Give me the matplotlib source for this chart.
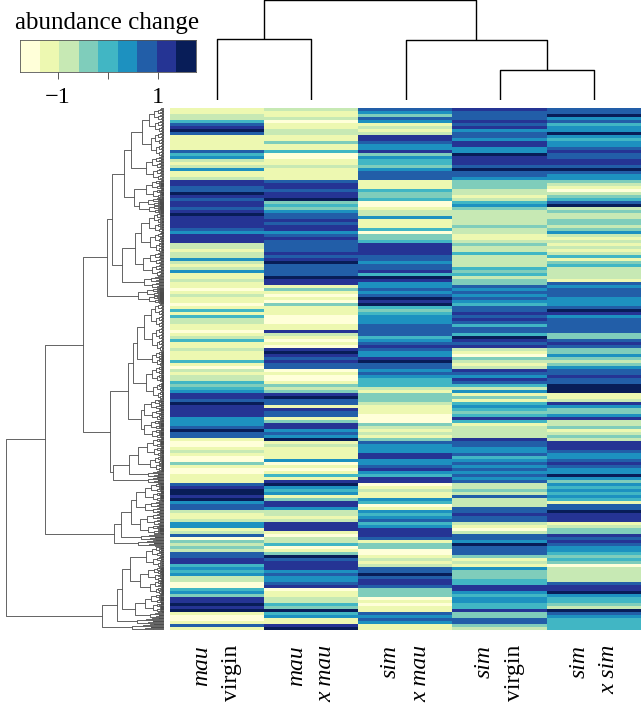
import matplotlib
matplotlib.use('Agg')
import matplotlib.pyplot as plt
import numpy as np
from matplotlib.colors import ListedColormap

plt.rcParams['font.family'] = ['Liberation Serif', 'DejaVu Serif']

# colour level (0-8) of each row, top to bottom
mau_virgin = [1,1,2,2,4,6,7,8,6,1,1,1,1,1,6,4,5,2,1,2,5,1,1,2,
              7,7,6,6,8,7,6,7,7,6,7,8,7,7,7,7,6,5,7,7,7,2,2,1,2,2,5,2,1,2,5,1,1,
              2,1,1,0,1,2,1,1,0,1,4,1,4,2,2,1,1,0,1,2,4,1,1,2,1,1,1,4,1,0,
              2,1,2,2,4,3,4,5,7,7,6,8,7,7,7,7,5,5,5,6,8,6,6,1,0,0,1,2,1,0,
              0,3,1,0,0,1,1,1,6,7,8,8,7,8,5,6,6,2,1,1,2,5,5,1,2,6,0,3,2,3,
              2,6,6,7,7,4,5,4,5,2,2,0,0,4,5,3,7,7,8,7,8,1,0,0,1,6,1]
mau_x_mau = [2,1,1,2,0,1,1,2,2,1,1,3,1,1,4,0,0,1,1,2,1,1,1,1,
             6,7,7,6,7,7,8,3,4,3,5,6,6,7,6,7,7,5,6,7,6,6,6,6,7,6,7,8,6,6,6,6,8,
             7,7,1,3,1,0,1,0,3,1,1,1,0,0,0,1,1,7,2,1,0,1,0,7,8,7,6,7,6,6,
             0,1,0,0,1,3,2,3,7,8,6,6,1,7,6,6,1,3,7,7,5,6,5,8,1,2,1,1,1,1,
             5,0,1,0,1,4,1,7,8,5,4,5,1,3,7,7,5,2,2,1,2,7,7,7,1,0,2,2,4,0,
             1,3,8,6,7,7,7,5,6,5,5,6,7,0,1,1,2,2,4,3,8,4,5,1,1,7,8]
sim_x_mau = [6,5,3,6,5,1,2,1,2,7,7,6,5,5,7,3,5,4,4,3,5,6,6,6,
             1,1,1,4,3,3,4,0,0,1,2,2,5,1,1,1,4,0,3,3,4,7,7,7,7,6,6,5,6,6,7,4,8,
             7,5,5,6,5,6,8,7,8,4,3,4,5,5,5,6,6,6,6,4,5,6,7,6,5,5,7,8,6,6,
             5,6,5,4,4,4,2,1,3,3,3,2,1,1,1,0,0,0,3,2,1,2,1,3,6,5,5,5,7,7,
             5,5,6,7,5,4,7,7,0,1,2,1,1,5,4,0,1,5,4,5,6,4,5,7,7,7,6,1,3,3,
             0,0,1,2,1,2,6,6,8,6,7,7,6,3,3,3,0,1,0,1,1,6,5,6,5,1,1]
sim_virgin = [7,6,6,6,7,6,7,5,6,6,5,7,7,5,5,8,7,7,7,6,8,6,6,5,
              3,3,3,2,2,1,2,4,5,3,2,2,2,2,2,3,2,2,1,1,2,3,2,2,4,2,2,2,2,4,3,4,2,
              3,3,6,5,6,5,6,5,4,6,6,7,6,7,6,4,6,6,4,8,7,6,7,2,1,0,3,2,1,2,
              7,6,5,7,6,4,2,5,1,3,1,4,5,4,3,4,7,4,1,2,2,2,2,7,6,6,5,5,6,4,
              5,6,5,6,5,6,5,6,2,2,3,2,6,2,2,2,6,6,7,6,6,2,1,0,2,6,6,5,8,6,
              6,6,3,1,2,1,5,3,3,3,4,4,7,7,5,4,5,5,4,4,7,3,3,6,6,3,2]
sim_x_sim = [6,6,8,5,6,4,5,5,8,5,4,5,5,6,7,6,6,7,7,6,8,6,5,5,
             3,2,1,0,2,3,4,6,8,2,3,2,2,3,3,2,3,5,2,1,2,1,2,1,2,4,1,3,4,2,2,2,2,
             1,6,5,6,6,6,5,5,5,6,8,7,5,6,6,6,6,6,3,3,6,7,6,3,3,5,3,2,3,5,
             6,6,7,6,6,8,8,8,1,1,2,7,5,3,3,5,7,2,2,3,1,2,3,2,7,7,7,6,5,5,
             6,7,6,5,5,8,5,3,5,4,5,4,5,4,1,6,6,8,7,7,7,1,2,3,3,7,6,7,6,5,
             5,4,3,4,3,0,2,2,2,2,2,6,7,7,8,5,4,4,3,2,8,6,5,4,4,4,4]

colors = ['#FFFFD9', '#EDF8B1', '#C7E9B4', '#7FCDBB', '#41B6C4',
          '#1D91C0', '#225EA8', '#253494', '#081D58']

# row tree: (height, upper, lower), ends are (height, number of rows)
row_tree = (158,
    (119,
        (81,
            (57,
                (52,
                    (40,
                        (33, (22, 16), (18, 8)),
                        (30, (18, 6), (25, 5))),
                    (42,
                        (29, (23, 13), (21, 8)),
                        (20, 4))),
                (26, 5)),
            (54,
                (36,
                    (31,
                        (27, (20, 16), (12, 5)),
                        (18, 11)),
                    (23, (20, 7), (20, 6))),
                (51,
                    (35,
                        (26, (17, 6), (14, 5)),
                        (16, 2)),
                    (16, 2)))),
        (50,
            (43,
                (33,
                    (28, (19, 6), (19, 4)),
                    (24, (17, 4), (16, 3))),
                (23, 2)),
            (26, 2))),
    (62,
        (47,
            (42,
                (34, (18, 7), (24, 9)),
                (29, (19, 6), (14, 2))),
            (27, 2)),
        (32, 2)))

# column tree merges
col_merge_heights = [100, 61, 60, 30]
col_names = [('mau', 'virgin'), ('mau', 'x mau'), ('sim', 'x mau'), ('sim', 'virgin'), ('sim', 'x sim')]
second_italic = [False, True, True, False, True]

W, H = 641, 705
fig = plt.figure(figsize=(W / 100, H / 100), dpi=100)


def px_axes(x0, y0, x1, y1):
    ax = fig.add_axes([x0 / W, 1 - y1 / H, (x1 - x0) / W, (y1 - y0) / H])
    return ax


# heatmap
values = np.array([mau_virgin, mau_x_mau, sim_x_mau, sim_virgin, sim_x_sim]).T
ax = px_axes(170, 108, 641, 630)
ax.imshow(values, cmap=ListedColormap(colors), vmin=-0.5, vmax=8.5, aspect='auto', interpolation='nearest')
ax.axis('off')

# row dendrogram
ax_left = px_axes(0, 108, 164, 630)
n_rows = values.shape[0]
line_kw = dict(color='#4a4a4a', lw=0.6, solid_capstyle='butt')
LEAF = 0.25


def draw_cluster(h, lo, n):
    # end group: split in half until single leaves
    if n <= LEAF:
        return lo + n / 2, 0
    half = n / 2
    ha = h * 0.66
    ya, hh_a = draw_cluster(ha, lo, half)
    yb, hh_b = draw_cluster(ha * 0.9, lo + half, half)
    ax_left.plot([hh_a, h, h, hh_b], [ya, ya, yb, yb], **line_kw)
    return (ya + yb) / 2, h


def draw_node(node, lo):
    if len(node) == 2:
        y, h = draw_cluster(node[0], lo, float(node[1]))
        return y, h, lo + node[1]
    ya, ha, mid = draw_node(node[1], lo)
    yb, hb, hi = draw_node(node[2], mid)
    ax_left.plot([ha, node[0], node[0], hb], [ya, ya, yb, yb], **line_kw)
    return (ya + yb) / 2, node[0], hi


draw_node(row_tree, 0)
ax_left.set_xlim(164, 0)
ax_left.set_ylim(n_rows, 0)
ax_left.axis('off')

# column dendrogram
ax_top = px_axes(170, 0, 641, 100)
top_kw = dict(color='black', lw=1.0, solid_capstyle='butt')
h_root, h_a, h_b, h_c = col_merge_heights
ax_top.plot([0, 0, 1, 1], [0, h_a, h_a, 0], **top_kw)
ax_top.plot([3, 3, 4, 4], [0, h_c, h_c, 0], **top_kw)
ax_top.plot([2, 2, 3.5, 3.5], [0, h_b, h_b, h_c], **top_kw)
ax_top.plot([0.5, 0.5, 2.75, 2.75], [h_a, h_root, h_root, h_b], **top_kw)
ax_top.set_xlim(-0.5, 4.5)
ax_top.set_ylim(0, 100)
ax_top.axis('off')

# colour key
ax_key = px_axes(20, 40, 196, 72)
bar_edges = np.linspace(-1.76, 1.76, len(colors) + 1)
ax_key.pcolormesh(bar_edges, [0, 1], np.arange(len(colors)).reshape(1, -1),
                  cmap=ListedColormap(colors), vmin=-0.5, vmax=8.5)
ax_key.set_yticks([])
ax_key.set_xticks([-1, 0, 1])
ax_key.set_xticklabels(['\u22121', '', '1'], fontsize=17.5)
ax_key.tick_params(axis='x', length=5, width=0.7, color='#555555', pad=6)
for s in ax_key.spines.values():
    s.set_linewidth(0.6)
    s.set_color('#555555')
fig.text(15 / W, 1 - 23 / H, 'abundance change', fontsize=18, ha='left', va='center')

# column labels
for i, (first, second) in enumerate(col_names):
    cx = 170 + 94.2 * i
    fig.text((cx + 32) / W, 1 - 645 / H, first, rotation=90, style='italic', fontsize=17,
             ha='center', va='top')
    fig.text((cx + 62) / W, 1 - 645 / H, second, rotation=90, fontsize=17,
             style='italic' if second_italic[i] else 'normal', ha='center', va='top')

plt.savefig('out.png', dpi=100)
